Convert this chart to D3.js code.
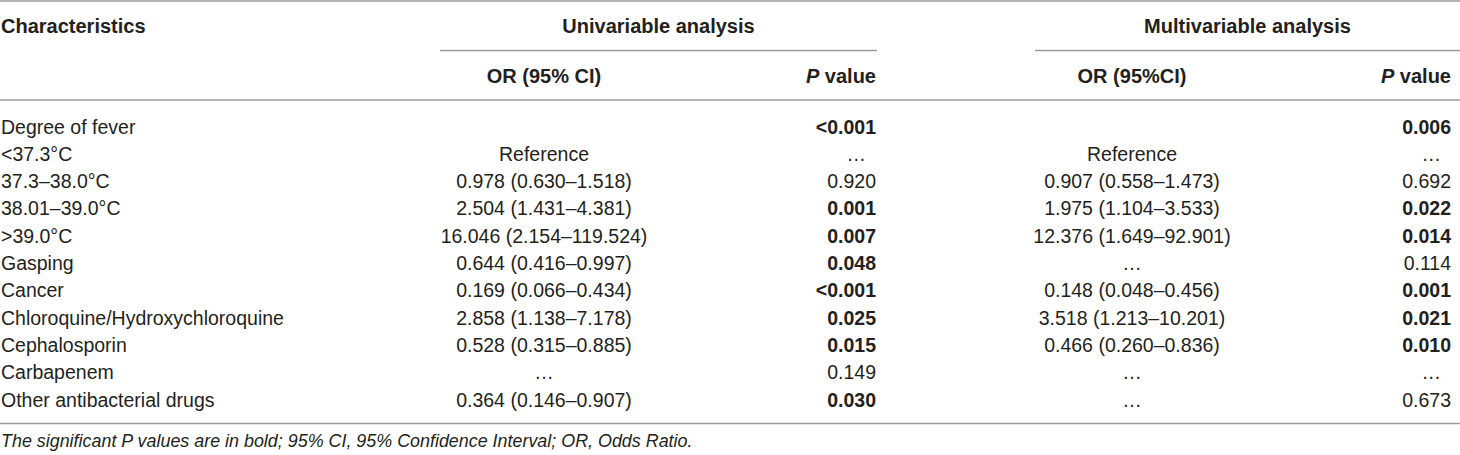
<!DOCTYPE html>
<html>
<head>
<meta charset="utf-8">
<script src="https://cdn.jsdelivr.net/npm/d3@7"></script>
<style>
  html, body { margin: 0; padding: 0; background: #fff; }
  svg { display: block; }
  text { font-family: "Liberation Sans", Arial, Helvetica, sans-serif; fill: #231f20; }
</style>
</head>
<body>
<svg id="chart" width="1460" height="455"></svg>
<script>
// ---- data ----
const characteristics = [
  "Degree of fever", "<37.3°C", "37.3–38.0°C", "38.01–39.0°C", ">39.0°C",
  "Gasping", "Cancer", "Chloroquine/Hydroxychloroquine", "Cephalosporin",
  "Carbapenem", "Other antibacterial drugs"
];
const uniOR = [
  "", "Reference", "0.978 (0.630–1.518)", "2.504 (1.431–4.381)", "16.046 (2.154–119.524)",
  "0.644 (0.416–0.997)", "0.169 (0.066–0.434)", "2.858 (1.138–7.178)", "0.528 (0.315–0.885)",
  "…", "0.364 (0.146–0.907)"
];
const uniP = [
  "<0.001", "…", "0.920", "0.001", "0.007", "0.048", "<0.001", "0.025", "0.015", "0.149", "0.030"
];
const multiOR = [
  "", "Reference", "0.907 (0.558–1.473)", "1.975 (1.104–3.533)", "12.376 (1.649–92.901)",
  "…", "0.148 (0.048–0.456)", "3.518 (1.213–10.201)", "0.466 (0.260–0.836)", "…", "…"
];
const multiP = [
  "0.006", "…", "0.692", "0.022", "0.014", "0.114", "0.001", "0.021", "0.010", "…", "0.673"
];
const groupHeaders = ["Univariable analysis", "Multivariable analysis"];
const footnote = "The significant P values are in bold; 95% CI, 95% Confidence Interval; OR, Odds Ratio.";

// ---- layout ----
const W = 1460;
const svg = d3.select("#chart");
const fs = 19.5;
const hfs = 20;
const lineColor = "#9a9a9a";

const isSig = p => p.startsWith("<") || (!isNaN(parseFloat(p)) && parseFloat(p) < 0.05);

const y = d3.scaleLinear().domain([0, characteristics.length - 1]).range([133.5, 406.5]);

const col = { char: 1, uniOR: 544, uniP: 876, multiOR: 1132, multiP: 1451 };
const groupSpan = [[440, 877], [1035, 1460]];

function hline(x1, x2, yy) {
  svg.append("line").attr("x1", x1).attr("x2", x2).attr("y1", yy).attr("y2", yy)
    .attr("stroke", lineColor).attr("stroke-width", 1.5);
}

hline(0, W, 1);
hline(groupSpan[0][0], groupSpan[0][1], 50.5);
hline(groupSpan[1][0], groupSpan[1][1], 50.5);
hline(0, W, 100);
hline(0, W, 423.5);

// header row 1
svg.append("text").attr("x", col.char).attr("y", 33).attr("font-size", hfs)
  .attr("font-weight", "bold").text("Characteristics");
groupHeaders.forEach((g, i) => {
  svg.append("text").attr("x", (groupSpan[i][0] + groupSpan[i][1]) / 2).attr("y", 33)
    .attr("text-anchor", "middle").attr("font-size", hfs).attr("font-weight", "bold").text(g);
});

// header row 2
svg.append("text").attr("x", col.uniOR).attr("y", 83).attr("text-anchor", "middle")
  .attr("font-size", hfs).attr("font-weight", "bold").text("OR (95% CI)");
svg.append("text").attr("x", col.multiOR).attr("y", 83).attr("text-anchor", "middle")
  .attr("font-size", hfs).attr("font-weight", "bold").text("OR (95%CI)");
[col.uniP, col.multiP].forEach(x => {
  const t = svg.append("text").attr("x", x).attr("y", 83).attr("text-anchor", "end")
    .attr("font-size", hfs).attr("font-weight", "bold");
  t.append("tspan").attr("font-style", "italic").text("P");
  t.append("tspan").text(" value");
});

// body rows
const rows = svg.append("g").selectAll("g").data(characteristics.map((c, i) => i))
  .join("g").attr("transform", i => `translate(0,${y(i)})`);

rows.append("text").attr("x", col.char).attr("font-size", fs).text(i => characteristics[i]);
rows.append("text").attr("x", col.uniOR).attr("text-anchor", "middle").attr("font-size", fs)
  .text(i => uniOR[i]);
rows.append("text").attr("x", i => uniP[i] === "…" ? col.uniP - 10 : col.uniP)
  .attr("text-anchor", "end").attr("font-size", fs)
  .attr("font-weight", i => isSig(uniP[i]) ? "bold" : "normal").text(i => uniP[i]);
rows.append("text").attr("x", col.multiOR).attr("text-anchor", "middle").attr("font-size", fs)
  .text(i => multiOR[i]);
rows.append("text").attr("x", i => multiP[i] === "…" ? col.multiP - 10 : col.multiP)
  .attr("text-anchor", "end").attr("font-size", fs)
  .attr("font-weight", i => isSig(multiP[i]) ? "bold" : "normal").text(i => multiP[i]);

// footnote
svg.append("text").attr("x", 1).attr("y", 447).attr("font-size", 17.9)
  .attr("font-style", "italic").text(footnote);
</script>
</body>
</html>
